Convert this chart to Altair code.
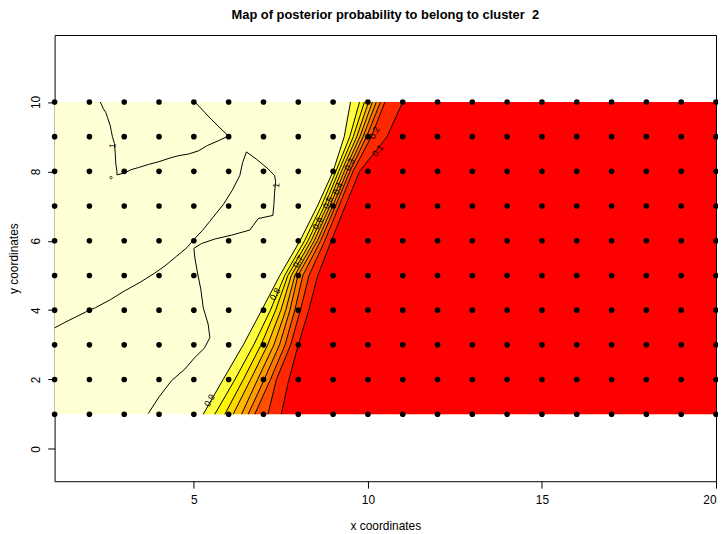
import altair as alt
import pandas as pd

# ---------------- data ----------------
GRID_X = list(range(1, 21))
GRID_Y = list(range(1, 11))

# x positions of each contour level at rows y = 1..10
ROW_Y = [1, 2, 3, 4, 5, 6, 7, 8, 9, 10]
LEVELS = ["0.9", "0.8", "0.7", "0.6", "0.5", "0.4", "0.3", "0.2", "0.1"]
C09 = [5.27, 5.84, 6.42, 6.95, 7.47, 8.05, 8.55, 9.00, 9.32, 9.50]
C08 = [5.60, 6.18, 6.72, 7.20, 7.61, 8.18, 8.66, 9.08, 9.48, 9.76]
C07 = [5.89, 6.42, 6.93, 7.35, 7.70, 8.28, 8.75, 9.16, 9.58, 9.90]
C06 = [6.13, 6.63, 7.12, 7.50, 7.80, 8.37, 8.83, 9.24, 9.68, 10.02]
C05 = [6.37, 6.83, 7.30, 7.64, 7.90, 8.46, 8.91, 9.32, 9.77, 10.13]
C04 = [6.56, 7.02, 7.46, 7.76, 7.99, 8.55, 8.99, 9.40, 9.86, 10.24]
C03 = [6.75, 7.20, 7.62, 7.90, 8.13, 8.64, 9.07, 9.48, 9.96, 10.36]
C02 = [7.13, 7.37, 7.78, 8.06, 8.31, 8.76, 9.17, 9.57, 10.10, 10.49]
C01 = [7.51, 7.73, 8.00, 8.30, 8.56, 8.95, 9.35, 9.76, 10.55, 11.00]
CONTOURS = [C09, C08, C07, C06, C05, C04, C03, C02, C01]

# "1" level contours (paths)
ONE_A_X = [2.31, 2.36, 2.40, 2.47, 2.52, 2.60, 2.63, 2.66, 2.72, 2.74, 2.76, 2.79, 2.79, 3.00, 3.20, 3.41,
           3.70, 4.00, 4.30, 4.55, 4.85, 5.13, 5.40, 5.70, 5.99, 5.50, 5.03]
ONE_A_Y = [10.0, 9.90, 9.80, 9.70, 9.55, 9.31, 9.15, 9.00, 8.80, 8.54, 8.20, 8.00, 7.90, 7.95, 8.05, 8.11,
           8.20, 8.28, 8.38, 8.45, 8.50, 8.59, 8.75, 8.88, 9.02, 9.50, 10.0]
ONE_B_X = [1.00, 1.30, 1.60, 1.90, 2.17, 2.60, 3.00, 3.45, 3.88, 4.20, 4.50, 4.80, 5.03, 5.25, 5.45, 5.65,
           5.85, 6.10, 6.32, 6.40, 6.51, 6.80, 7.10, 7.32, 7.35,
           7.32, 7.30, 7.27, 6.85, 6.61, 6.08, 5.60, 5.22, 5.00, 5.03, 5.10, 5.20, 5.27, 5.41, 5.46, 5.30,
           5.03, 4.74, 4.36, 4.00, 3.69]
ONE_B_Y = [3.49, 3.65, 3.80, 3.95, 4.07, 4.30, 4.55, 4.80, 5.07, 5.30, 5.55, 5.80, 6.07, 6.30, 6.55, 6.80,
           7.05, 7.45, 7.88, 8.25, 8.56, 8.35, 8.10, 7.88, 7.70,
           7.40, 7.05, 6.73, 6.64, 6.31, 6.16, 6.05, 5.92, 5.78, 5.50, 5.10, 4.60, 4.07, 3.60, 3.21, 2.90,
           2.64, 2.30, 1.97, 1.50, 1.02]
RING_X = [2.62]
RING_Y = [7.82]

LABEL_TEXT = ["0.9", "0.8", "0.7", "0.6", "0.5", "0.4", "0.3", "0.2", "0.1", "1", "1"]
LABEL_X = [5.45, 7.33, 8.00, 8.56, 8.85, 9.14, 9.47, 10.19, 10.28, 2.66, 7.37]
LABEL_Y = [1.40, 4.46, 5.40, 6.50, 7.10, 7.50, 8.20, 9.11, 8.60, 8.74, 7.60]
LABEL_ANGLE = [300, 300, 298, 295, 295, 295, 295, 295, 308, 280, 275]

BAND_NAMES = ["b98", "b87", "b76", "b65", "b54", "b43", "b32", "b21"]
BAND_COLORS = ["#FFFF40", "#FFF500", "#FFDA00", "#FFBA00", "#FF9A00", "#FF7800", "#FF5000", "#FF2800"]
PALE = "#FFFFD5"
RED = "#FF0000"

TITLE = "Map of posterior probability to belong to cluster \u00a02"

# ---------------- tables ----------------
pts = pd.DataFrame([(x, y) for y in GRID_Y for x in GRID_X], columns=["x", "y"])

band_rows = []
for k, name in enumerate(BAND_NAMES):
    for i, y in enumerate(ROW_Y):
        band_rows.append({"band": name, "y": y, "x": CONTOURS[k][i], "x2": CONTOURS[k + 1][i]})
bands = pd.DataFrame(band_rows)

red = pd.DataFrame({"y": ROW_Y, "x": C01, "x2": [20] * len(ROW_Y)})
pale = pd.DataFrame({"x": [1], "x2": [20], "y": [1], "y2": [10]})

line_rows = []
for k, lev in enumerate(LEVELS):
    for i, y in enumerate(ROW_Y):
        line_rows.append({"path": lev, "i": i, "x": CONTOURS[k][i], "y": y})
for i, (x, y) in enumerate(zip(ONE_A_X, ONE_A_Y)):
    line_rows.append({"path": "1a", "i": i, "x": x, "y": y})
for i, (x, y) in enumerate(zip(ONE_B_X, ONE_B_Y)):
    line_rows.append({"path": "1b", "i": i, "x": x, "y": y})
lines = pd.DataFrame(line_rows)

labels = pd.DataFrame({"t": LABEL_TEXT, "x": LABEL_X, "y": LABEL_Y, "a": LABEL_ANGLE})
ring = pd.DataFrame({"x": RING_X, "y": RING_Y})
title_df = pd.DataFrame({"t": [TITLE]})

# ---------------- scales ----------------
xs = alt.Scale(domain=[1, 20], nice=False, zero=False)
ys = alt.Scale(domain=[-0.93, 11.93], nice=False, zero=False)

xax = alt.Axis(values=[5, 10, 15, 20], title="x coordinates", grid=False, domain=False,
               tickSize=7, tickColor="black", labelPadding=6, labelFontSize=12,
               labelColor="black", labelFont="Liberation Sans", titleFont="Liberation Sans",
               titleFontSize=12, titleFontWeight="normal", titleColor="black",
               titleY=45, titleBaseline="middle")
yax = alt.Axis(values=[0, 2, 4, 6, 8, 10], title="y coordinates", grid=False, domain=False,
               tickSize=7, tickColor="black", labelPadding=5, labelFontSize=12,
               labelColor="black", labelAngle=270, labelAlign="center", labelBaseline="bottom",
               labelFont="Liberation Sans", titleFont="Liberation Sans",
               titleFontSize=12, titleFontWeight="normal", titleColor="black",
               titleX=-41, titleY=225, titleAngle=270, titleAlign="center", titleBaseline="middle")

pale_l = alt.Chart(pale).mark_rect(color=PALE).encode(
    x=alt.X("x:Q", scale=xs, axis=xax), x2="x2", y=alt.Y("y:Q", scale=ys, axis=yax), y2="y2")

band_l = alt.Chart(bands).mark_area(orient="horizontal", strokeWidth=0).encode(
    y=alt.Y("y:Q", scale=ys), x=alt.X("x:Q", scale=xs), x2="x2",
    color=alt.Color("band:N", scale=alt.Scale(domain=BAND_NAMES, range=BAND_COLORS), legend=None),
    detail="band:N")

red_l = alt.Chart(red).mark_area(orient="horizontal", color=RED).encode(
    y=alt.Y("y:Q", scale=ys), x=alt.X("x:Q", scale=xs), x2="x2")

line_l = alt.Chart(lines).mark_line(color="black", strokeWidth=1).encode(
    x=alt.X("x:Q", scale=xs), y=alt.Y("y:Q", scale=ys), detail="path:N", order="i:Q")

ring_l = alt.Chart(ring).mark_point(color="black", size=6, strokeWidth=1, filled=False).encode(
    x=alt.X("x:Q", scale=xs), y=alt.Y("y:Q", scale=ys))

lab_l = alt.Chart(labels).mark_text(fontSize=9, font="Liberation Sans", color="black").encode(
    x=alt.X("x:Q", scale=xs), y=alt.Y("y:Q", scale=ys), text="t:N", angle=alt.Angle("a:Q", scale=None))

pt_l = alt.Chart(pts).mark_circle(color="black", size=32, opacity=1).encode(
    x=alt.X("x:Q", scale=xs), y=alt.Y("y:Q", scale=ys))

title_l = alt.Chart(title_df).mark_text(fontSize=13, fontWeight="bold", font="Liberation Sans",
                                        color="black", align="center", baseline="alphabetic").encode(
    x=alt.value(333.5), y=alt.value(-16), text="t:N")

chart = alt.layer(pale_l, band_l, red_l, line_l, ring_l, lab_l, pt_l, title_l).properties(
    width=667, height=450,
    background="white",
    autosize=alt.AutoSizeParams(type="none"),
    padding={"left": 47, "top": 25, "right": 2, "bottom": 51},
).configure_view(stroke="black", strokeWidth=1)

chart.save("out.html", embed_options={"renderer": "svg", "actions": False})
